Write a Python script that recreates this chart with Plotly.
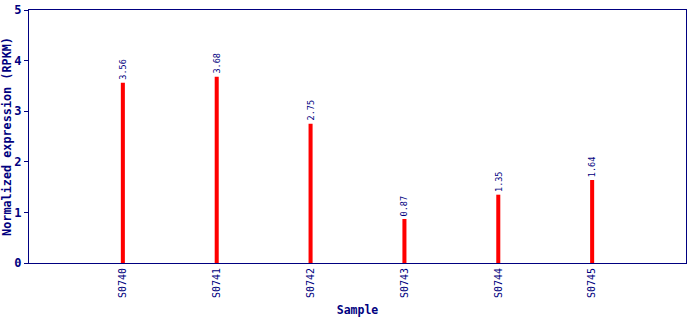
import plotly.graph_objects as go

samples = ["S0740", "S0741", "S0742", "S0743", "S0744", "S0745"]
values = [3.56, 3.68, 2.75, 0.87, 1.35, 1.64]
labels = ["3.56", "3.68", "2.75", "0.87", "1.35", "1.64"]
y_ticks = [0, 1, 2, 3, 4, 5]

navy = "#000080"
fig = go.Figure()
fig.add_trace(go.Bar(
    x=list(range(len(samples))), y=values, width=0.043,
    marker=dict(color="#ff0000", line=dict(width=0)),
))
for i, (v, t) in enumerate(zip(values, labels)):
    fig.add_annotation(x=i, y=v, text=t, showarrow=False, textangle=-90,
                       xanchor="center", yanchor="bottom", yshift=1,
                       font=dict(family="DejaVu Sans Mono", size=8.5, color=navy))
fig.update_layout(
    width=690, height=320, margin=dict(l=29, r=4, t=10, b=57),
    paper_bgcolor="white", plot_bgcolor="white", showlegend=False,
    xaxis=dict(range=[-1, 6], tickmode="array", tickvals=list(range(len(samples))),
               ticktext=samples, tickangle=-90, showgrid=False, zeroline=False,
               showline=True, linecolor=navy, linewidth=1, mirror=True, ticks="",
               automargin=False,
               tickfont=dict(family="DejaVu Sans Mono", size=10, color=navy),
               title=dict(text="<b>Sample</b>", standoff=8,
                          font=dict(family="DejaVu Sans Mono", size=11.5, color=navy))),
    yaxis=dict(range=[0, 5], tickvals=y_ticks, showgrid=False, zeroline=False,
               showline=True, linecolor=navy, linewidth=1, mirror=True,
               ticks="outside", ticklen=4, tickcolor=navy, automargin=False,
               tickfont=dict(family="DejaVu Sans Mono", size=12, color=navy, weight="bold"),
               title=dict(text="<b>Normalized expression (RPKM)</b>", standoff=6,
                          font=dict(family="DejaVu Sans Mono", size=11.8, color=navy))),
)
fig.write_html("out.html")
